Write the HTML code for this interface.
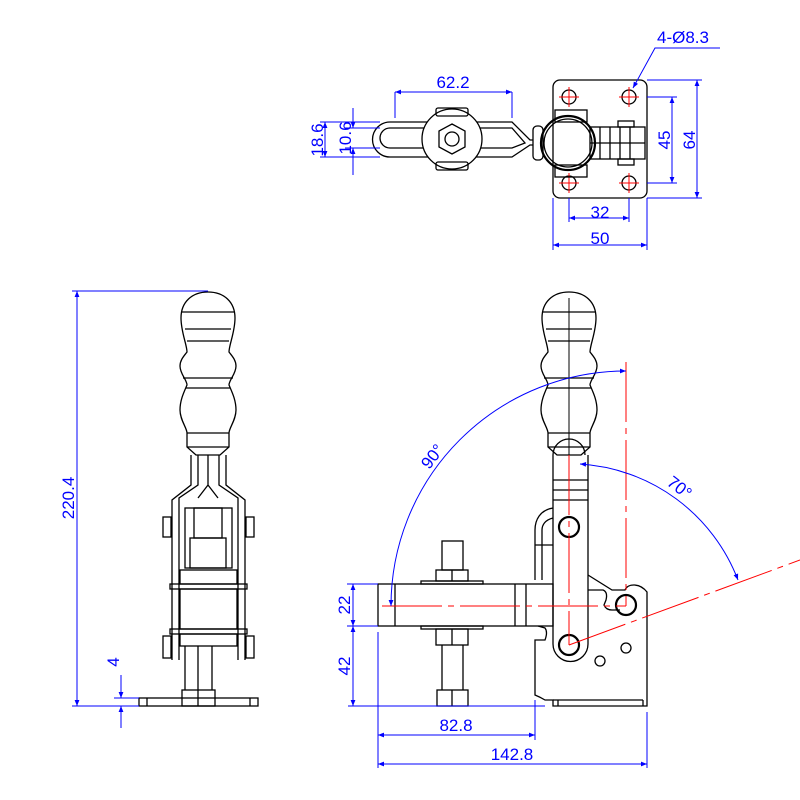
<!DOCTYPE html>
<html><head><meta charset="utf-8"><style>
html,body{margin:0;padding:0;background:#fff}
svg{display:block}
text{font-family:"Liberation Sans",sans-serif;fill:#0000ff;font-size:17px}
.k{fill:none;stroke:#000;stroke-width:1.3}
.kb{fill:none;stroke:#000;stroke-width:2.2}
.b{fill:none;stroke:#0000ff;stroke-width:1}
.r{fill:none;stroke:#ff0000;stroke-width:1}
.rd{fill:none;stroke:#ff0000;stroke-width:1;stroke-dasharray:60 6 6 6}
</style></head><body>
<svg width="800" height="800" viewBox="0 0 800 800" xmlns="http://www.w3.org/2000/svg">
<defs>
<marker id="a" viewBox="0 0 10 10" refX="10" refY="5" markerWidth="10" markerHeight="6" orient="auto-start-reverse" markerUnits="userSpaceOnUse"><path d="M0,1 L10,5 L0,9 z" fill="#0000ff"/></marker>
<g id="knob">
<path d="M0,292 C-16,292 -27,302 -27,318 C-27,332 -21,345 -21,352 C-24,356 -28,360 -28,366 C-28,374 -21,380 -21,385 C-24,392 -28,400 -28,410 C-28,420 -21,428 -21,433 V447 L-12,455 H12 L21,447 V433 C21,428 28,420 28,410 C28,400 24,392 21,385 C21,380 28,374 28,366 C28,360 24,356 21,352 C21,345 27,332 27,318 C27,302 16,292 0,292 Z" class="k"/>
<path class="k" d="M-26,312H26M-23,329H23M-21,341H21M-25,378H25M-22,388H22M-21,433H21M-21,447H21"/>
</g>
</defs>

<!-- ================= TOP VIEW ================= -->
<rect class="k" x="553" y="80" width="94" height="118" rx="7"/>
<g class="k">
<circle cx="569" cy="97" r="7"/><circle cx="629" cy="97" r="7"/>
<circle cx="569" cy="183" r="7"/><circle cx="629" cy="183" r="7"/>
</g>
<g class="r">
<path d="M559,97h20M569,87v20M619,97h20M629,87v20M559,183h20M569,173v20M619,183h20M629,173v20"/>
</g>
<g class="k">
<rect x="555" y="110" width="32" height="12"/><rect x="555" y="165" width="32" height="12"/>
<rect x="590" y="127" width="55" height="32"/>
<path d="M600,127v32M610,127v32M620,127v32M630,127v32M590,143h55"/>
<rect x="618" y="121" width="16" height="6"/><rect x="618" y="159" width="16" height="6"/>
</g>
<circle class="kb" cx="568" cy="143" r="27" fill="#fff"/>
<circle class="k" cx="568" cy="143" r="24"/>
<g class="k">
<rect x="533" y="126" width="10" height="34" rx="4"/>
<path d="M390,122 H512 L530,140 L533,140 M390,157 H512 L530,145 L533,145"/>
<path d="M390,122 A17.5,17.5 0 0 0 390,157"/>
<path d="M390,128 H512 L525,143 L512,148 H390 A10,10 0 0 1 390,128"/>
<circle cx="452" cy="139" r="30" fill="#fff"/>
<rect x="436" y="108" width="32" height="8" rx="2"/><rect x="436" y="162" width="32" height="8" rx="2"/>
<polygon points="452,124 465,131 465,147 452,154 439,147 439,131"/>
<circle cx="452" cy="139" r="7"/>
</g>
<g class="b">
<path d="M395,92V118M512,92V118" />
<path d="M395,92H512" marker-start="url(#a)" marker-end="url(#a)"/>
<path d="M320,122H380M320,157H380M345,128H380M345,148H380"/>
<path d="M325,122V157" marker-start="url(#a)" marker-end="url(#a)"/>
<path d="M353,108V128" marker-end="url(#a)"/><path d="M353,175V148" marker-end="url(#a)"/>
<path d="M647,80H702M647,198H702M647,97H677M647,183H677"/>
<path d="M697,80V198" marker-start="url(#a)" marker-end="url(#a)"/>
<path d="M672,97V183" marker-start="url(#a)" marker-end="url(#a)"/>
<path d="M569,198V222M629,198V222M553,198V250M647,198V250"/>
<path d="M569,218H629" marker-start="url(#a)" marker-end="url(#a)"/>
<path d="M553,245H647" marker-start="url(#a)" marker-end="url(#a)"/>
<path d="M720,48H655L633,88" marker-end="url(#a)"/>
</g>
<text x="453" y="88" text-anchor="middle">62.2</text>
<text transform="translate(323,140) rotate(-90)" text-anchor="middle">18.6</text>
<text transform="translate(351,138) rotate(-90)" text-anchor="middle">10.6</text>
<text transform="translate(670,140) rotate(-90)" text-anchor="middle">45</text>
<text transform="translate(695,140) rotate(-90)" text-anchor="middle">64</text>
<text x="600" y="218" text-anchor="middle">32</text>
<text x="600" y="244" text-anchor="middle">50</text>
<text x="657" y="43">4-Ø8.3</text>

<!-- ================= LEFT VIEW ================= -->
<use href="#knob" transform="translate(208,0)"/>
<g class="k">
<path d="M191,455V485L172,500V660M226,455V485L245,500V660M198,455V485L179,498V660M219,455V485L238,498V660M208,455V485M208,485L198,498 M208,485L218,498"/>
<rect x="185" y="508" width="47" height="60"/>
<rect x="194" y="508" width="28" height="30"/>
<rect x="190" y="538" width="36" height="30"/>
<rect x="163" y="517" width="8" height="20"/><rect x="246" y="517" width="8" height="20"/>
<rect x="180" y="570" width="57" height="14"/>
<rect x="170" y="584" width="77" height="5"/>
<rect x="180" y="589" width="57" height="40"/>
<rect x="170" y="629" width="77" height="5"/>
<rect x="180" y="634" width="57" height="12"/>
<rect x="163" y="636" width="8" height="22"/><rect x="246" y="636" width="8" height="22"/>
<path d="M185,646V690M212,646V690M198,646V690"/>
<rect x="182" y="690" width="33" height="16"/>
<path d="M198,690V706"/>
<rect x="139" y="698" width="119" height="8"/>
<path d="M147,698V706M250,698V706"/>
</g>
<g class="b">
<path d="M72,291H208"/>
<path d="M77,291V706" marker-start="url(#a)" marker-end="url(#a)"/>
<path d="M72,706H139M114,698H139"/>
<path d="M121,675V698" marker-end="url(#a)"/><path d="M121,728V706" marker-end="url(#a)"/>
</g>
<text transform="translate(74,498) rotate(-90)" text-anchor="middle">220.4</text>
<text transform="translate(119,662) rotate(-90)" text-anchor="middle">4</text>

<!-- ================= RIGHT VIEW ================= -->
<use href="#knob" transform="translate(569,0)"/>
<path class="k" d="M569,298V455" style="stroke-width:1"/>
<g class="k">
<path d="M553,455 A16,16 0 0 1 585,455"/>
<path d="M553,455V644 A17,17 0 0 0 588,644 V455"/>
<path d="M553,480H588M553,490H588M553,500H588"/>
<path d="M553,508 C540,510 535,520 535,530 V580 M553,518 C545,520 542,525 542,530 V580 M535,545H553"/>
<path d="M588,575 L612,590 H625 C628,583 640,583 647,592 V706 H553 V700 L545,700 Q540,697 535,695 V640 L545,640 Q548,632 545,628 L538,626"/>
<path d="M588,590 H603 Q608,592 606,600 L604,605 Q606,610 612,610 H620"/>
<path d="M553,700H643M558,700V706M643,700V706"/>
<circle cx="626" cy="605" r="10" class="kb"/>
<circle cx="569" cy="527" r="10" class="kb"/>
<circle cx="569" cy="645" r="10" class="kb"/>
<circle cx="626" cy="648" r="5"/>
<circle cx="600" cy="661" r="5"/>
<rect x="378" y="584" width="175" height="42"/>
<path d="M395,584V626M515,584V626M526,584V626"/>
<rect x="421" y="581" width="62" height="3"/><rect x="421" y="626" width="62" height="3"/>
<rect x="436" y="570" width="32" height="11"/><path d="M452,570V581"/>
<rect x="436" y="629" width="32" height="16"/><path d="M452,629V645"/>
<rect x="442" y="541" width="21" height="29"/>
<path d="M442,645V690M463,645V690"/>
<rect x="437" y="690" width="31" height="16"/><path d="M452,690V706"/>
</g>
<path class="rd" d="M569,455V645"/>
<path class="rd" d="M626,362V606"/>
<path class="rd" d="M382,606H626"/>
<path class="rd" d="M569,645L800,560"/>
<g class="b">
<path d="M626,371 A235,235 0 0 0 391,606" marker-start="url(#a)" marker-end="url(#a)"/>
<path d="M580,464 A181,181 0 0 1 738,580" marker-start="url(#a)" marker-end="url(#a)"/>
</g>
<text transform="translate(437,460) rotate(-52)" text-anchor="middle">90°</text>
<text transform="translate(676,492) rotate(38)" text-anchor="middle">70°</text>
<g class="b">
<path d="M347,584H378M347,626H378M348,706H545"/>
<path d="M353,584V626" marker-start="url(#a)" marker-end="url(#a)"/>
<path d="M353,626V706" marker-start="url(#a)" marker-end="url(#a)"/>
<path d="M378,632V768M535,700V740M647,712V768"/>
<path d="M378,735H535" marker-start="url(#a)" marker-end="url(#a)"/>
<path d="M378,764H647" marker-start="url(#a)" marker-end="url(#a)"/>
</g>
<text transform="translate(350,605) rotate(-90)" text-anchor="middle">22</text>
<text transform="translate(350,666) rotate(-90)" text-anchor="middle">42</text>
<text x="456" y="731" text-anchor="middle">82.8</text>
<text x="512" y="760" text-anchor="middle">142.8</text>
</svg>
</body></html>
